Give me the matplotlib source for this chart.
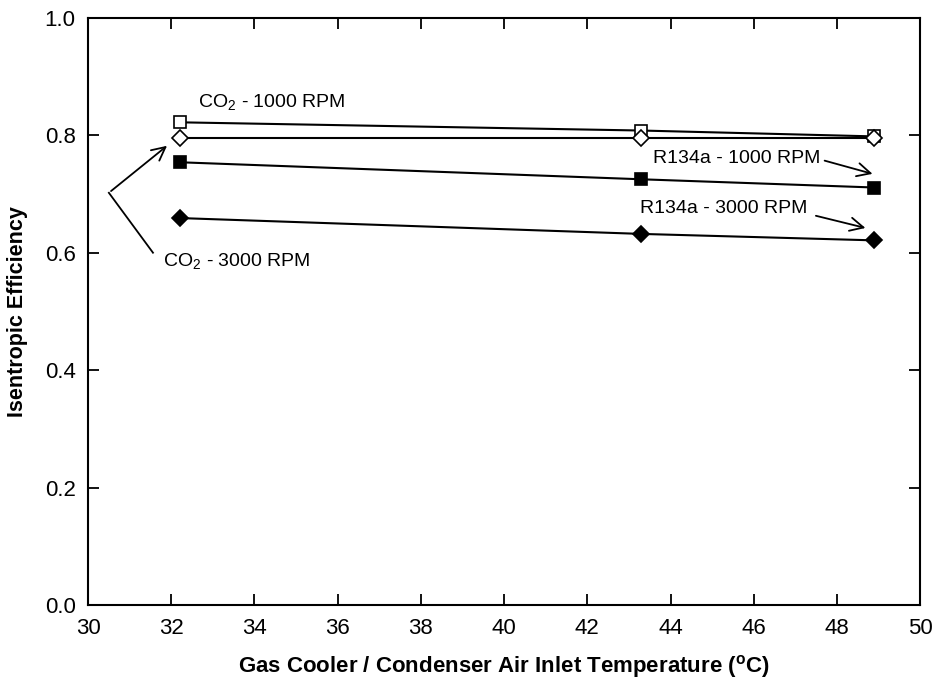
import matplotlib
matplotlib.use("Agg")
import matplotlib.pyplot as plt

# --- datos ---
temp = [32.2, 43.3, 48.9]
co2_1000 = [0.822, 0.808, 0.798]
co2_3000 = [0.796, 0.796, 0.796]
r134a_1000 = [0.754, 0.725, 0.711]
r134a_3000 = [0.659, 0.632, 0.621]

xticks = [30, 32, 34, 36, 38, 40, 42, 44, 46, 48, 50]
yticks = [0.0, 0.2, 0.4, 0.6, 0.8, 1.0]

plt.rcParams['font.family'] = ['Liberation Sans', 'DejaVu Sans']

fig = plt.figure(figsize=(9.37, 6.83), dpi=100)
ax = fig.add_axes([0.094, 0.114, 0.888, 0.860])

base = dict(color='black', lw=1.5, mec='black', mew=1.2, zorder=3)
ax.plot(temp, co2_1000, marker='s', mfc='white', ms=9, **base)
ax.plot(temp, r134a_1000, marker='s', mfc='black', ms=9, **base)
ax.plot(temp, r134a_3000, marker='D', mfc='black', ms=8, **base)
ax.plot(temp, co2_3000, marker='D', mfc='white', ms=8, **base)

ax.set_xlim(30, 50)
ax.set_ylim(0, 1.0)
ax.set_xticks(xticks)
ax.set_yticks(yticks)
ax.set_xticklabels([str(t) for t in xticks], fontsize=16)
ax.set_yticklabels([f"{t:.1f}" for t in yticks], fontsize=16)
ax.tick_params(direction='in', length=8, width=1.3, top=True, right=True, pad=9)
for s in ax.spines.values():
    s.set_linewidth(1.5)

ax.set_xlabel("Gas Cooler / Condenser Air Inlet Temperature ($^{\\mathregular{o}}$C)",
              fontweight='bold', fontsize=16, labelpad=10)
ax.set_ylabel("Isentropic Efficiency", fontweight='bold', fontsize=15.5, labelpad=12)

# --- anotaciones ---
fs = 14
arrow = dict(arrowstyle='->', color='black', lw=1.3, mutation_scale=24)
ax.text(32.64, 0.855, "CO$_\\mathregular{2}$ - 1000 RPM", fontsize=fs, va='center')
ax.text(31.8, 0.584, "CO$_\\mathregular{2}$ - 3000 RPM", fontsize=fs, va='center')
ax.plot([31.56, 30.5], [0.600, 0.702], color='black', lw=1.3)
ax.annotate("", xy=(31.95, 0.785), xytext=(30.5, 0.702), arrowprops=arrow)

ax.text(43.58, 0.761, "R134a - 1000 RPM", fontsize=fs, va='center')
ax.annotate("", xy=(48.92, 0.733), xytext=(47.64, 0.758), arrowprops=arrow)
ax.text(43.27, 0.676, "R134a - 3000 RPM", fontsize=fs, va='center')
ax.annotate("", xy=(48.75, 0.641), xytext=(47.43, 0.664), arrowprops=arrow)

fig.savefig("out.png", dpi=100)
